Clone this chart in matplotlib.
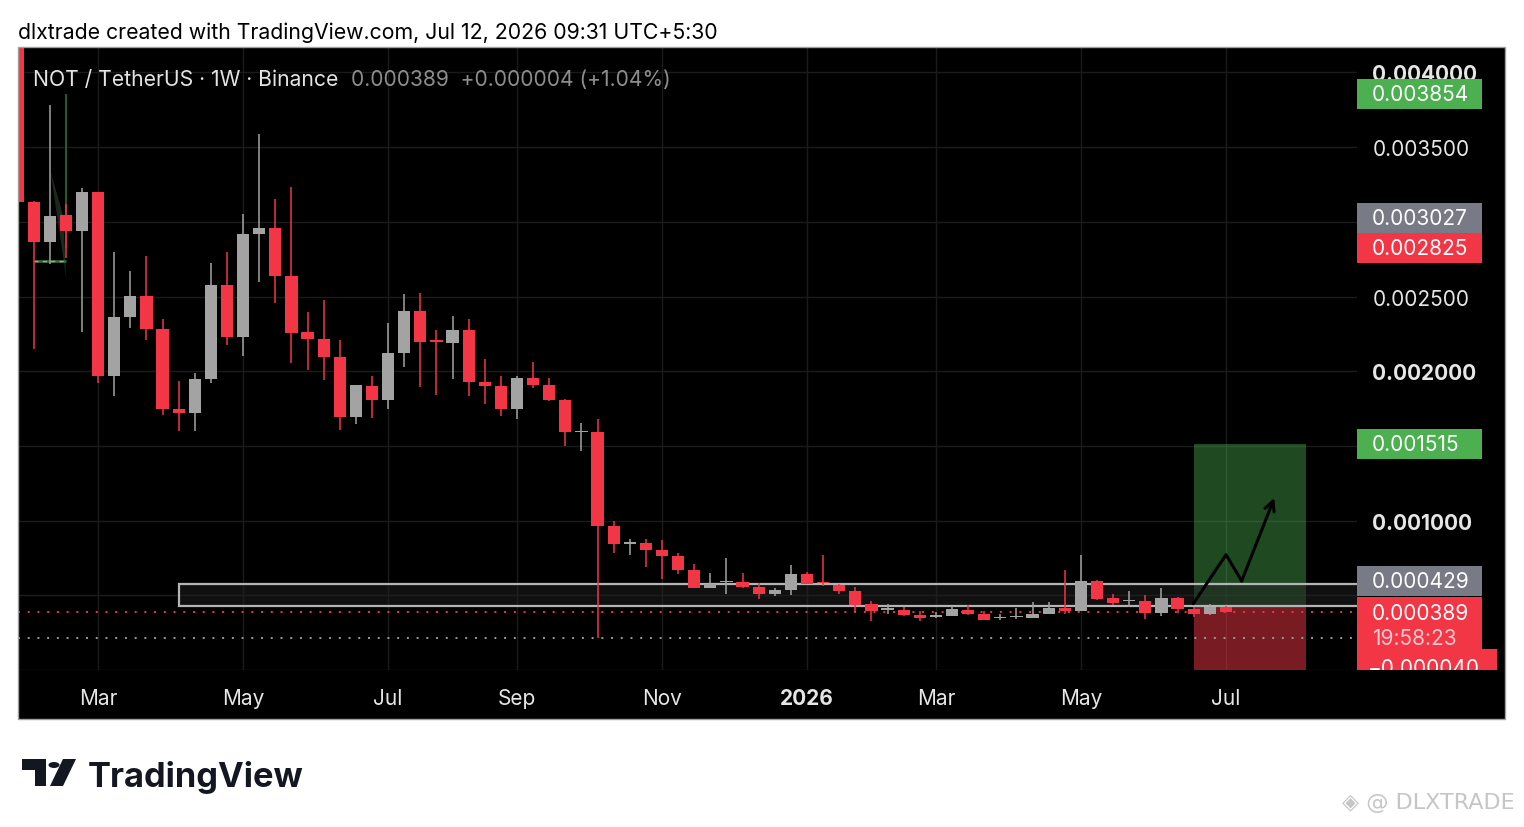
import numpy as np
import pandas as pd
import matplotlib
matplotlib.use("Agg")
import matplotlib.pyplot as plt
from matplotlib.patches import Rectangle, Polygon, Circle

plt.rcParams["font.family"] = ["Inter", "DejaVu Sans"]

# ---------------- DATA ----------------
FIRST_WEEK = "2025-01-27"   # weekly bars, Monday open

opens = [0.00455, 0.00313, 0.002862, 0.003043, 0.002942, 0.003197, 0.001967, 0.00236, 0.002505,
         0.002286, 0.00175, 0.001723, 0.001946, 0.002576, 0.00223, 0.002918, 0.002956, 0.002636,
         0.002264, 0.002219, 0.002092, 0.001692, 0.001904, 0.00181, 0.002125, 0.0024, 0.002206,
         0.002186, 0.002275, 0.001929, 0.001904, 0.00175, 0.001953, 0.001911, 0.00181, 0.001591,
         0.001594, 0.000962, 0.000845, 0.000853, 0.000801, 0.000761, 0.000667, 0.000549, 0.00059,
         0.000589, 0.000556, 0.000511, 0.000536, 0.000643, 0.000586, 0.000571, 0.000527, 0.00044,
         0.000405, 0.000404, 0.00037, 0.000357, 0.000359, 0.000404, 0.000377, 0.000347, 0.000352,
         0.000348, 0.000372, 0.000417, 0.000397, 0.000596, 0.000482, 0.000459, 0.000464, 0.000384,
         0.000482, 0.00041, 0.000375, 0.000422]
highs = [0.0048, 0.003143, 0.00378, 0.003117, 0.00323, 0.003197, 0.002795, 0.00267, 0.002773,
         0.002348, 0.001933, 0.001991, 0.002726, 0.002795, 0.00305, 0.003585, 0.003152, 0.003235,
         0.002398, 0.00248, 0.002208, 0.00191, 0.001969, 0.00232, 0.002516, 0.002527, 0.002275,
         0.002368, 0.002348, 0.002085, 0.001969, 0.001969, 0.002063, 0.001958, 0.001817, 0.001656,
         0.001681, 0.000995, 0.00088, 0.000875, 0.000868, 0.000784, 0.000707, 0.000647, 0.000752,
         0.00065, 0.000583, 0.000549, 0.000703, 0.000656, 0.000768, 0.000578, 0.000556, 0.000463,
         0.000442, 0.00042, 0.000397, 0.000389, 0.00043, 0.000436, 0.000392, 0.000375, 0.000416,
         0.000455, 0.000455, 0.000667, 0.000772, 0.000605, 0.000509, 0.000529, 0.000504, 0.000549,
         0.000486, 0.00042, 0.000442, 0.00043]
lows = [0.00308, 0.002152, 0.00272, 0.002755, 0.002266, 0.001918, 0.001833, 0.00229, 0.002206,
        0.001705, 0.0016, 0.0016, 0.001918, 0.002174, 0.002103, 0.0026, 0.002458, 0.002058,
        0.002011, 0.001944, 0.001605, 0.001645, 0.001688, 0.00175, 0.00203, 0.001893, 0.001839,
        0.001946, 0.001833, 0.001779, 0.0017, 0.001683, 0.001891, 0.0018, 0.001498, 0.001467,
        0.000214, 0.000781, 0.000772, 0.000692, 0.000607, 0.000645, 0.000549, 0.000549, 0.000511,
        0.000549, 0.000478, 0.000498, 0.0005, 0.000578, 0.000562, 0.000506, 0.000389, 0.00033,
        0.000372, 0.000362, 0.000326, 0.000348, 0.000359, 0.000366, 0.000332, 0.000332, 0.000343,
        0.000345, 0.000372, 0.000372, 0.000395, 0.000466, 0.000433, 0.000422, 0.000344, 0.000364,
        0.000384, 0.000357, 0.000366, 0.000385]
closes = [0.00313, 0.002862, 0.003036, 0.002942, 0.003197, 0.001967, 0.00236, 0.002505, 0.002281,
          0.00175, 0.001723, 0.001946, 0.002576, 0.00223, 0.002918, 0.002956, 0.002636, 0.002259,
          0.002214, 0.002092, 0.001695, 0.001906, 0.00181, 0.002125, 0.0024, 0.002194, 0.002196,
          0.002275, 0.001926, 0.001902, 0.00175, 0.001953, 0.001911, 0.001806, 0.001591, 0.001595,
          0.000962, 0.000841, 0.000855, 0.000801, 0.000761, 0.000667, 0.000549, 0.000578, 0.000594,
          0.000556, 0.000511, 0.000538, 0.000643, 0.000578, 0.00058, 0.000527, 0.000433, 0.000393,
          0.00041, 0.000366, 0.000348, 0.000361, 0.000409, 0.000375, 0.000332, 0.00035, 0.000356,
          0.000372, 0.000417, 0.000395, 0.000596, 0.000478, 0.000446, 0.000465, 0.000384, 0.000482,
          0.000406, 0.000375, 0.000419, 0.000389]

HEADER = "dlxtrade created with TradingView.com, Jul 12, 2026 09:31 UTC+5:30"
SYMBOL = "NOT / TetherUS \u00b7 1W \u00b7 Binance"
LAST_INFO = "0.000389  +0.000004 (+1.04%)"
COUNTDOWN = "19:58:23"

price_ticks = [0.0, 0.0005, 0.001, 0.0015, 0.002, 0.0025, 0.003, 0.0035, 0.004]
bold_ticks = [0.001, 0.002, 0.004]
hidden_ticks = [0.0, 0.0005, 0.0015, 0.003]

last_price = 0.000389
cycle_low = 0.000214

# support zone
zone_start, zone_low, zone_high = 10, 0.000429, 0.000578
# long position tool + projected path
pos_start, pos_end = 73, 80
pos_target, pos_entry, pos_stop = 0.001515, 0.000429, -0.00004
path_x = [72.98, 75.01, 75.98, 78.01]
path_y = [0.000444, 0.000772, 0.000596, 0.001152]
# small old position tool (top left)
old_x = 3.0
old_target, old_entry, old_stop = 0.003854, 0.003027, 0.002825

# ---------------- STYLE ----------------
W, H = 1524, 828
RED = "#f23645"
GRAY = "#a3a3a3"
GREEN = "#4caf50"
TAG_GRAY = "#787b86"
YMIN, YMAX = 0.000003, 0.0041706
PANE_L, PANE_R, PANE_T, PANE_B = 18, 1357, 48, 671
XMIN, XMAX = 0.025, 83.14


def fx(px):
    return px / W


def fy(py):
    return 1 - py / H


fig = plt.figure(figsize=(W / 100, H / 100), dpi=100, facecolor="white")

# black chart background (behind the axes) and a thin grey border on top
fig.patches.append(Rectangle((fx(18), fy(720)), fx(1505) - fx(18), fy(48) - fy(720),
                             transform=fig.transFigure, facecolor="black", lw=0, zorder=-5))
fig.patches.append(Rectangle((fx(18), fy(720)), fx(1505) - fx(18), fy(48) - fy(720),
                             transform=fig.transFigure, facecolor="none",
                             edgecolor="#a0a0a0", lw=1.0, zorder=10))

ax = fig.add_axes([fx(PANE_L), fy(PANE_B), fx(PANE_R) - fx(PANE_L), fy(PANE_T) - fy(PANE_B)])
ax.set_facecolor("black")
ax.set_xlim(XMIN, XMAX)
ax.set_ylim(YMIN, YMAX)
for s in ax.spines.values():
    s.set_visible(False)

# time axis: first bar of every second month
dates = pd.date_range(FIRST_WEEK, periods=len(opens), freq="W-MON")
tick_pos, tick_lab = [], []
for k in range(1, len(dates)):
    if dates[k].month != dates[k - 1].month and dates[k].month % 2 == 1:
        tick_pos.append(k)
        tick_lab.append(str(dates[k].year) if dates[k].month == 1 else dates[k].strftime("%b"))
ax.set_xticks(tick_pos, tick_lab)
ax.tick_params(axis="x", length=0, pad=13, labelsize=15, labelcolor="#e6e6e6")
for lbl in ax.get_xticklabels():
    if lbl.get_text().isdigit():
        lbl.set_fontweight("bold")

# price axis on the right
ylabels = ["" if t in hidden_ticks else f"{t:.6f}" for t in price_ticks]
ax.set_yticks(price_ticks, ylabels)
ax.yaxis.tick_right()
ax.tick_params(axis="y", length=0, pad=11, labelsize=15, labelcolor="#e6e6e6")
for t, tick in zip(price_ticks, ax.yaxis.get_major_ticks()):
    if t in bold_ticks:
        tick.label2.set_fontweight("bold")

ax.grid(True, color="#1b1b1b", lw=1.0)
ax.set_axisbelow(True)

# position tool
ax.add_patch(Rectangle((pos_start, pos_entry), pos_end - pos_start, pos_target - pos_entry,
                       facecolor=GREEN, alpha=0.42, lw=0, zorder=1))
ax.add_patch(Rectangle((pos_start, pos_stop), pos_end - pos_start, pos_entry - pos_stop,
                       facecolor=RED, alpha=0.5, lw=0, zorder=1))

# support zone rectangle
ax.add_patch(Rectangle((zone_start, zone_low), 200, zone_high - zone_low,
                       facecolor=(0.13, 0.13, 0.13, 0.5), edgecolor="#b4b4b4", lw=1.6, zorder=2))

# old drawings top-left
ax.vlines(old_x, old_entry, old_target, color="#2e6b33", lw=1.2, zorder=2)
ax.vlines(old_x, old_stop, old_entry, color="#7a1e28", lw=1.2, zorder=2)
ax.add_patch(Polygon([(2.05, 0.003338), (2.82, 0.003044), (3.02, 0.002621)],
                     closed=True, facecolor="#1f2d22", edgecolor="none", alpha=0.9, zorder=2))
ax.hlines(0.002741, 1.0, 3.0, color="#2e6b33", lw=2.0, zorder=2)
ax.hlines(0.002741, 1.0, 3.0, color="#d88b98", lw=1.0, linestyles=(0, (3, 3)), zorder=2)

# price lines
ax.axhline(last_price, color=RED, lw=1.4, ls=(0, (1, 4)), zorder=3)
ax.axhline(cycle_low, color="#9a9a9a", lw=1.4, ls=(0, (1, 4)), zorder=3)

# candles
o, h, l, c = (np.array(a) for a in (opens, highs, lows, closes))
x = np.arange(len(o))
colors = np.where(c >= o, GRAY, RED)
ax.vlines(x, l, h, colors=colors, lw=1.1, zorder=4)
body_h = np.maximum(np.abs(c - o), 0.000009)
ax.bar(x, body_h, bottom=np.minimum(o, c), width=0.76, color=colors, linewidth=0, zorder=5)

# projected path
ax.plot(path_x[:-1], path_y[:-1], color="black", lw=2.2, zorder=6, solid_capstyle="round")
ax.annotate("", xy=(path_x[-1], path_y[-1]), xytext=(path_x[-2], path_y[-2]),
            arrowprops=dict(arrowstyle="->,head_length=0.7,head_width=0.35", color="black",
                            lw=2.2, shrinkA=0, shrinkB=0), zorder=6)

# ---------------- PRICE TAGS ----------------
pax = fig.add_axes([fx(PANE_R), fy(PANE_B), fx(1505) - fx(PANE_R), fy(PANE_T) - fy(PANE_B)],
                   sharey=ax)
pax.patch.set_visible(False)
pax.set_xlim(0, 1)
pax.axis("off")
ppx = (YMAX - YMIN) / (PANE_B - PANE_T)   # price per pixel
ty = pax.get_yaxis_transform()
TEXT_X = 15 / 148

tags = [
    (old_target, GREEN, 0),
    (old_entry, TAG_GRAY, 0),
    (old_stop, RED, 0),
    (pos_target, GREEN, 0),
    (pos_entry, TAG_GRAY, 24.5),
]
for price, col, shift in tags:
    yc = price + shift * ppx
    pax.add_patch(Rectangle((0, yc - 15 * ppx), 125 / 148, 30 * ppx, transform=ty,
                            facecolor=col, lw=0, zorder=5))
    pax.text(TEXT_X, yc, f"{price:.6f}", transform=ty, ha="left", va="center",
             fontsize=15, color="white", zorder=6)

# current price + countdown
pax.add_patch(Rectangle((0, last_price - 37 * ppx), 125 / 148, 52 * ppx, transform=ty,
                        facecolor=RED, lw=0, zorder=5))
pax.text(TEXT_X, last_price - 1.5 * ppx, f"{last_price:.6f}", transform=ty, ha="left",
         va="center", fontsize=15, color="white", zorder=6)
pax.text(TEXT_X, last_price - 26 * ppx, COUNTDOWN, transform=ty, ha="left", va="center",
         fontsize=15, color="#f9c9ce", zorder=6)

# stop tag, pushed up and clipped by the pane bottom
ys = pos_stop + 11.5 * ppx
pax.add_patch(Rectangle((0, ys - 15 * ppx), 140 / 148, 30 * ppx, transform=ty,
                        facecolor=RED, lw=0, zorder=5))
pax.text(TEXT_X - 0.03, ys - 4 * ppx, f"{pos_stop:.6f}".replace("-", "\u2212"), transform=ty,
         ha="left", va="center", fontsize=15, color="white", zorder=6, clip_on=True)

# ---------------- TEXT / FOOTER ----------------
fig.text(fx(18), fy(33), HEADER, fontsize=15.3, color="black", ha="left", va="center")
fig.text(fx(33), fy(80), SYMBOL, fontsize=15.2, color="#e3e3e3", ha="left", va="center")
fig.text(fx(351), fy(80), LAST_INFO, fontsize=15.1, color="#8d8d8d", ha="left", va="center")

# TradingView logo
fig.patches.append(Polygon([(fx(22), fy(760)), (fx(46), fy(760)), (fx(46), fy(787)),
                            (fx(35), fy(787)), (fx(35), fy(771)), (fx(22), fy(771))],
                           closed=True, transform=fig.transFigure, facecolor="#131722"))
fig.patches.append(Circle((fx(54), fy(766)), 5.5 / W, transform=fig.transFigure,
                          facecolor="#131722"))
fig.patches.append(Polygon([(fx(63), fy(760)), (fx(76), fy(760)), (fx(63), fy(787)),
                            (fx(50), fy(787))],
                           closed=True, transform=fig.transFigure, facecolor="#131722"))
fig.text(fx(88), fy(787), "TradingView", fontsize=24.8, fontweight="bold", color="#131722",
         ha="left", va="baseline")

fig.text(fx(1515), fy(803), "\u25c8 @ DLXTRADE", fontsize=16, color="#c6c6c6",
         ha="right", va="center", family=["DejaVu Sans"])

fig.savefig("out.png", dpi=100, facecolor="white")
